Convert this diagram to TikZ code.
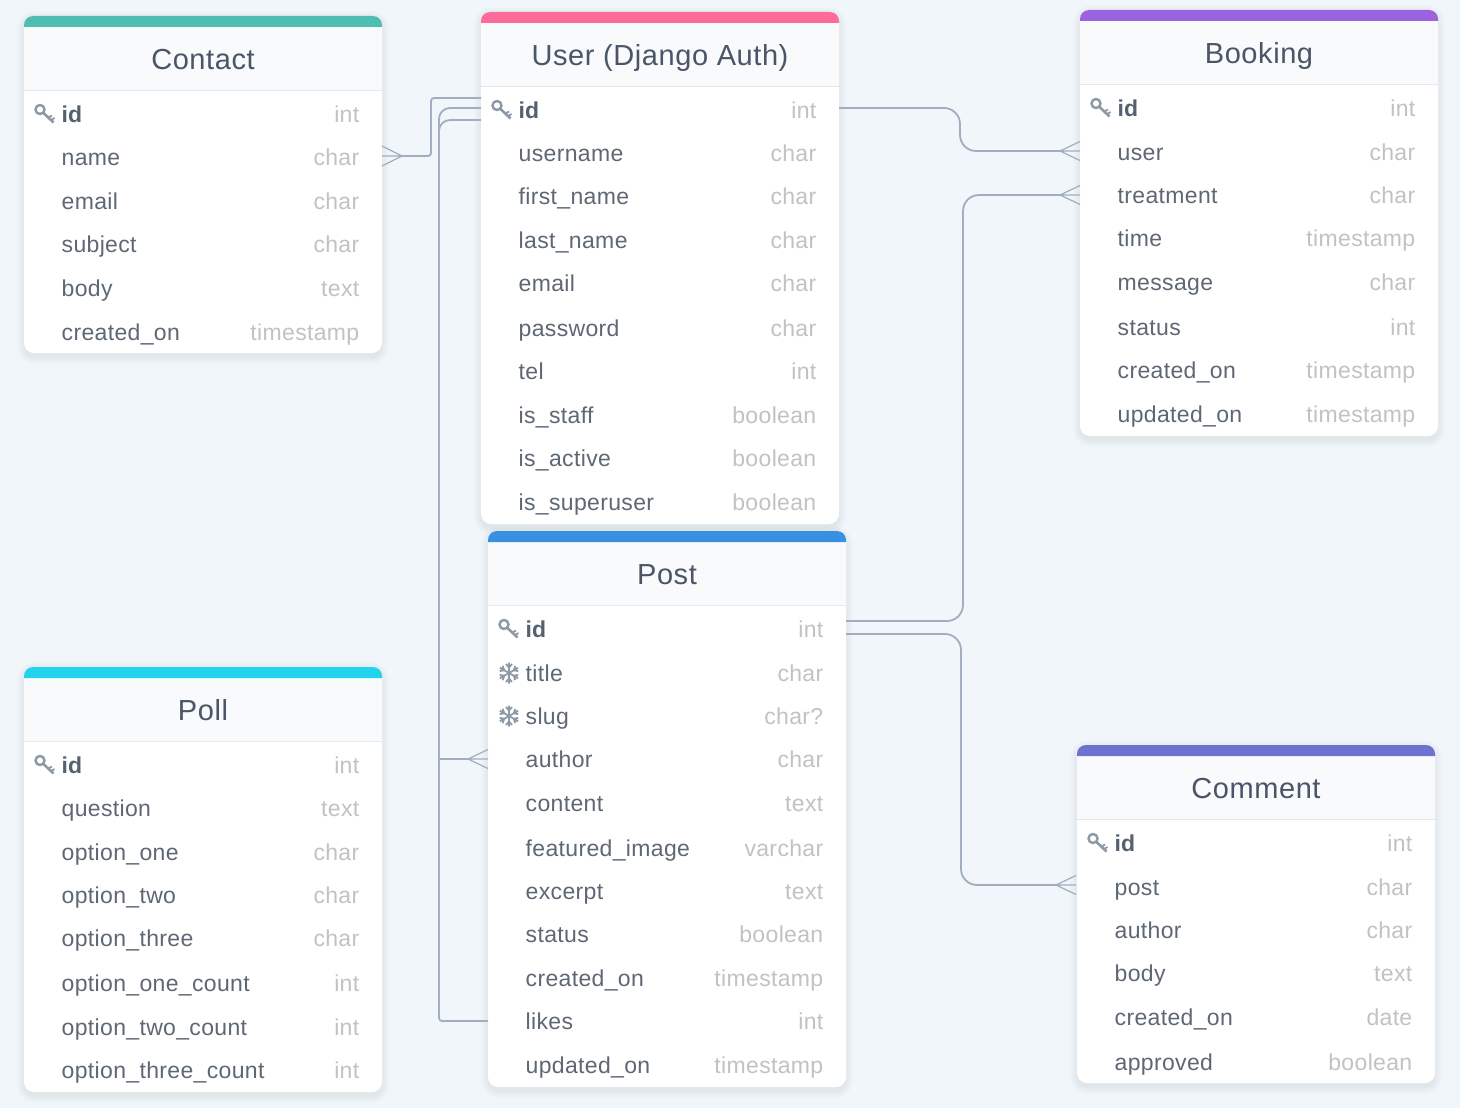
\documentclass[tikz,border=0pt]{standalone}
\usepackage[HTML]{xcolor}
\usepackage{fontspec}
\setmainfont{Liberation Sans}
\usetikzlibrary{positioning}

\definecolor{pagebg}{HTML}{F1F6FA}
\definecolor{headbg}{HTML}{F8FAFC}
\definecolor{headline}{HTML}{E2E8F0}
\definecolor{titletext}{HTML}{4A5568}
\definecolor{nametext}{HTML}{5E6875}
\definecolor{typetext}{HTML}{C0C2C5}
\definecolor{idtext}{HTML}{566170}
\definecolor{linkline}{HTML}{A0AEC0}
\definecolor{icongray}{HTML}{8D99A6}
\definecolor{contactbar}{HTML}{4FBDB0}
\definecolor{userbar}{HTML}{FB6C9B}
\definecolor{bookingbar}{HTML}{9B63E0}
\definecolor{postbar}{HTML}{3790E0}
\definecolor{pollbar}{HTML}{22D3EE}
\definecolor{commentbar}{HTML}{6B72D0}

\tikzset{
  tabletitle/.style={anchor=base, inner sep=0pt, text=titletext, font=\fontsize{29}{33}\selectfont\addfontfeature{LetterSpace=2}},
  rowname/.style={anchor=base west, inner sep=0pt, text=nametext, font=\fontsize{23}{27}\selectfont\addfontfeature{LetterSpace=1.5}},
  rowid/.style={rowname, text=idtext, font=\fontsize{23}{27}\selectfont\bfseries},
  rowtype/.style={anchor=base east, inner sep=0pt, text=typetext, font=\fontsize{23}{27}\selectfont\addfontfeature{LetterSpace=1.5}},
  link/.style={draw=linkline, line width=1.8pt},
  foot/.style={draw=linkline, line width=1.2pt},
  keyicon/.pic={
    \draw[icongray, line width=2.4pt] (-5,-4.5) circle (4.5);
    \draw[icongray, line width=2.6pt] (-1.5,-1) -- (8.5,8.5);
    \draw[icongray, line width=1.8pt] (3.5,3.5) -- (7,1.5) (6,6) -- (9.5,4);
  },
  flakeicon/.pic={
    \foreach \a in {30,90,...,330} {
      \draw[icongray, line width=1.8pt, rotate=\a] (0,0) -- (10.5,0) (5.5,0) -- (9,3) (5.5,0) -- (9,-3);
    }
  },
  crowleft/.pic={
    \draw[foot] (0,0) -- (-20,-10) (0,0) -- (-20,0) (0,0) -- (-20,10);
  },
  crowright/.pic={
    \draw[foot] (0,0) -- (20,-9.5) (0,0) -- (20,0) (0,0) -- (20,9.5);
  },
}

% #1 name, #2 title, #3 left, #4 top, #5 bottom, #6 bar colour, #7 id row, #8 other rows
\newcommand{\erdtable}[8]{
  \foreach \s in {0,...,7} {
    \fill[black, opacity=0.008, rounded corners=10+\s]
      (#3-\s,#4+2-\s) rectangle (#3+358+\s,#5+4+\s);
  }
  \fill[white, rounded corners=10] (#3,#4) rectangle (#3+358,#5);
  \fill[headbg] (#3,#4+11) rectangle (#3+358,#4+74);
  \draw[headline, line width=1pt] (#3,#4+74.5) -- (#3+358,#4+74.5);
  \fill[#6] (#3,#4+11) [rounded corners=9] -- (#3,#4) -- (#3+358,#4) [sharp corners] -- (#3+358,#4+11) -- cycle;
  \node[tabletitle] (#1-title) at (#3+179,#4+53.5) {#2};
  \pic at (#3+21,#7) {keyicon};
  \node[rowid] (#1-id) at (#3+37.5,#7+8) {id};
  \node[rowtype] (#1-idtype) at (#3+335.5,#7+8) {int};
  \foreach \n/\t/\y [count=\i] in {#8} {
    \node[rowname] (#1-\i) at (#3+37.5,\y+8) {\n};
    \node[rowtype] (#1-type\i) at (#3+335.5,\y+8) {\t};
  }
}

\begin{document}
\begin{tikzpicture}[x=1pt,y=-1pt]
\useasboundingbox (0,0) rectangle (1460,1108);
\fill[pagebg] (0,0) rectangle (1460,1108);
% --- Contact ---
\erdtable{contact}{Contact}{24}{16}{353}{contactbar}{114}{
  name/char/157, email/char/201, subject/char/244, body/text/288, created\_on/timestamp/332}
% --- User ---
\erdtable{user}{User (Django Auth)}{481}{12}{524}{userbar}{110}{
  username/char/153, first\_name/char/196, last\_name/char/240, email/char/283, password/char/328,
  tel/int/371, is\_staff/boolean/415, is\_active/boolean/458, is\_superuser/boolean/502}
% --- Booking ---
\erdtable{booking}{Booking}{1080}{10}{436}{bookingbar}{108}{
  user/char/152, treatment/char/195, time/timestamp/238, message/char/282, status/int/327,
  created\_on/timestamp/370, updated\_on/timestamp/414}
% --- Post ---
\erdtable{post}{Post}{488}{531}{1087}{postbar}{629}{
  title/char/673, slug/char?/716, author/char/759, content/text/803, featured\_image/varchar/848,
  excerpt/text/891, status/boolean/934, created\_on/timestamp/978, likes/int/1021, updated\_on/timestamp/1065}
\pic at (509,673) {flakeicon};
\pic at (509,716) {flakeicon};
% --- Poll ---
\erdtable{poll}{Poll}{24}{667}{1092}{pollbar}{765}{
  question/text/808, option\_one/char/852, option\_two/char/895, option\_three/char/938,
  option\_one\_count/int/983, option\_two\_count/int/1027, option\_three\_count/int/1070}
% --- Comment ---
\erdtable{comment}{Comment}{1077}{745}{1083}{commentbar}{843}{
  post/char/887, author/char/930, body/text/973, created\_on/date/1017, approved/boolean/1062}
% --- Links ---
\coordinate (userA) at (481,98);
\coordinate (userB) at (481,108);
\coordinate (userC) at (481,120);
\coordinate (userD) at (839,108);
\coordinate (contactfoot) at (402,156);
\coordinate (authorjoin) at (439,759);
\coordinate (postauthor) at (468,759);
\coordinate (postlikes) at (488,1021);
\coordinate (postA) at (846,621);
\coordinate (postB) at (846,634);
\coordinate (bookinguser) at (1060,151);
\coordinate (bookingtreat) at (1060,195);
\coordinate (commentpost) at (1056,885);
\draw[link, rounded corners=3] (contactfoot) -- (431,156) -- (431,98) -- (userA);
\draw[link, rounded corners=11] (userB) -- (439,108) -- (authorjoin);
\draw[link] (authorjoin) -- (postauthor);
\draw[link, rounded corners=11] (userC) -- (439,120) -- (439,1021) [rounded corners=3] -- (439,1021) -- (postlikes);
\draw[link, rounded corners=16] (userD) -- (960,108) -- (960,151) -- (bookinguser);
\draw[link, rounded corners=16] (postA) -- (963,621) -- (963,195) -- (bookingtreat);
\draw[link, rounded corners=16] (postB) -- (961,634) -- (961,885) -- (commentpost);
\pic at (contactfoot) {crowleft};
\pic at (postauthor) {crowright};
\pic at (bookinguser) {crowright};
\pic at (bookingtreat) {crowright};
\pic at (commentpost) {crowright};
\end{tikzpicture}
\end{document}
